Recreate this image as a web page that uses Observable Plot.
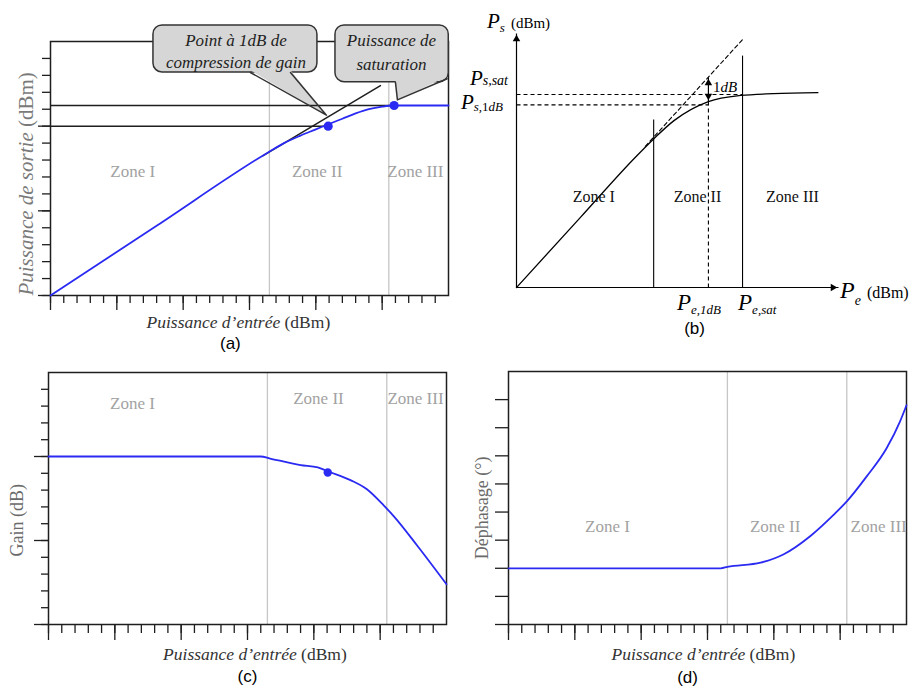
<!DOCTYPE html>
<html lang="fr">
<head>
<meta charset="utf-8">
<script src="https://cdn.jsdelivr.net/npm/d3@7"></script>
<script src="https://cdn.jsdelivr.net/npm/@observablehq/plot@0.6"></script>
<style>
html,body{margin:0;padding:0;background:#fff;}
#root{position:relative;width:909px;height:689px;overflow:hidden;background:#fff;}
.panel{position:absolute;}
.panel svg{display:block;}
</style>
</head>
<body>
<div id="root"></div>
<script>
// ================= DATA =================
const zoneNames = ["Zone I", "Zone II", "Zone III"];
const zoneBounds = [16.5, 25.5];                       // input power at zone boundaries (a, c, d)
const xMinorTicks = [0,1,2,3,4,5,6,7,8,9,10,11,12,13,14,15,16,17,18,19,20,21,22,23,24,25,26,27,28,29];
const xMajorTicks = [0,5,10,15,20,25];

// (a) output power vs input power
const aPin  = [0, 8, 16.4, 17.6, 18.8, 20.0, 20.9, 22.0, 23.0, 24.0, 25.0, 25.9, 30];
const aPout = [0, 4.12, 8.45, 9.0, 9.43, 9.81, 10.1, 10.44, 10.75, 11.0, 11.15, 11.22, 11.22];
const aTangentIn  = [16, 24.87];
const aTangentOut = [8.25, 12.4];
const aKeyIn  = [20.93, 25.9];      // 1 dB compression point, saturation point
const aKeyOut = [10.0, 11.22];
const aYMinorTicks = [0,1,2,3,4,5,6,7,8,9,10,11,12,13,14];
const aYMajorTicks = [0,5,10];
const aZoneLabelX = [6.2, 20.1, 27.5];
const aZoneLabelY = [6.97, 6.97, 6.97];
const aCalloutLines = [["Point à 1dB de", "compression de gain"], ["Puissance de", "saturation"]];

// (b) schematic Ps = f(Pe)
const bPe = [0, 2, 3.7, 4.26, 4.89, 5.96, 6.96, 7.98, 9.36];
const bPs = [0, 2.78, 5.14, 5.85, 6.57, 7.32, 7.56, 7.63, 7.67];
const bTangentPe = [4.0, 7.02];
const bTangentPs = [5.56, 9.76];
const bZoneX   = [4.26, 7.02];
const bZoneTop = [6.61, 9.13];
const bPe1dB = 5.96, bPesat = 7.02, bPs1dB = 7.19, bPssat = 7.6;
const bLinear1dB = 8.27;            // linear extrapolation at Pe,1dB
const bZoneLabelX = [2.4, 5.62, 8.57];
const bZoneLabelY = [3.35, 3.35, 3.35];

// (c) gain vs input power
const cPin  = [0, 8, 16, 16.7, 19, 20.3, 21.05, 22.8, 24, 25.3, 26, 27.8, 30];
const cGain = [10, 10, 10, 9.88, 9.49, 9.35, 9.12, 8.58, 8.05, 7.06, 6.47, 4.69, 2.4];
const cKeyIn = [21.05], cKeyGain = [9.05];
const cYMinorTicks = [0,1,2,3,4,5,6,7,8,9,10,11,12,13,14];
const cYMajorTicks = [0,5,10];
const cZoneLabelX = [6.33, 20.35, 27.66];
const cZoneLabelY = [12.8, 13.1, 13.15];

// (d) phase shift vs input power
const dPin   = [0, 8, 16, 16.5, 19, 20.75, 22.76, 24.5, 25.5, 27, 28.5, 29.5, 30];
const dPhase = [2, 2, 2, 2.05, 2.2, 2.5, 3.15, 3.9, 4.38, 5.27, 6.27, 7.21, 7.8];
const dYTicks = [0,1,2,3,4,5,6,7,8];
const dZoneLabelX = [7.46, 20.1, 27.9];
const dZoneLabelY = [3.29, 3.29, 3.29];

// ================= STYLE =================
const SERIF = "'Liberation Serif','Times New Roman',serif";
const SANS = "'Liberation Sans',Arial,sans-serif";
const BLUE = "#2a2af2";
const ZONE_TXT = "#a2a2a2";
const ZONE_LINE = "#c6c6c6";
const INK = "#1e1e1e";
const BOX = "#d6d6d6";

const root = document.getElementById("root");
function place(svg, left, top) {
  const div = document.createElement("div");
  div.className = "panel";
  div.style.left = left + "px";
  div.style.top = top + "px";
  div.appendChild(svg);
  root.appendChild(div);
}
// rich text (italic / upright / subscripts) positioned through the plot's scales
function rich(svg, spec) {
  const px = svg.scale("x").apply(spec.x) + (spec.dx || 0);
  const py = svg.scale("y").apply(spec.y) + (spec.dy || 0);
  const t = d3.select(svg).append("text")
    .attr("transform", `translate(${px},${py})` + (spec.rotate ? ` rotate(${spec.rotate})` : ""))
    .attr("text-anchor", spec.anchor || "start")
    .attr("font-family", SERIF)
    .attr("fill", spec.fill || "#000");
  let shift = 0;
  for (const p of spec.parts) {
    const s = p.sh || 0;
    t.append("tspan")
      .attr("dy", s - shift)
      .attr("dx", p.dx || 0)
      .attr("font-size", p.s)
      .attr("font-style", p.i ? "italic" : "normal")
      .text(p.t);
    shift = s;
  }
}
const common = {style: {background: "transparent", overflow: "visible", fontFamily: SERIF}};
const noText = () => "";
function ticksX(minorSize, majorSize) {
  return [
    Plot.axisX(xMinorTicks, {tickSize: minorSize, tickFormat: noText, label: null, stroke: INK, strokeWidth: 1.3}),
    Plot.axisX(xMajorTicks, {tickSize: majorSize, tickFormat: noText, label: null, stroke: INK, strokeWidth: 1.3})
  ];
}
function ticksY(values, size) {
  return Plot.axisY(values, {tickSize: size, tickFormat: noText, label: null, stroke: INK, strokeWidth: 1.3});
}
function caption(x, dy, label) {
  return Plot.text([label], {x: () => x, y: () => 0, dy, text: d => d, lineAnchor: "bottom",
    fontFamily: SANS, fontSize: 17, fill: "#000"});
}
function zoneText(xs, ys, size, fill) {
  return Plot.text(zoneNames, {x: xs, y: ys, text: d => d, lineAnchor: "bottom",
    fontFamily: SERIF, fontSize: size, fill});
}
const zoneRules = Plot.ruleX(zoneBounds, {stroke: ZONE_LINE, strokeWidth: 1.3});

// ================= (a) =================
{
  const curve = aPin.map((x, i) => ({x, y: aPout[i]}));
  const tangent = aTangentIn.map((x, i) => ({x, y: aTangentOut[i]}));
  const keys = aKeyIn.map((x, i) => ({x, y: aKeyOut[i]}));
  const callouts = [
    {x1: 7.76, x2: 20.12, y1: 13.17, y2: 15.95, tx: 13.98, ty: [14.71, 13.41],
     pointer: [[15.07, 13.17], [20.8, 10.65], [18.09, 13.17]]},
    {x1: 21.48, x2: 30.02, y1: 12.6, y2: 15.95, tx: 25.7, ty: [14.71, 13.29],
     pointer: [[26.0, 12.6], [26.15, 11.55], [29.9, 12.8]]}
  ];
  const pStroke = callouts.flatMap((c, i) => c.pointer.map(([x, y]) => ({i, x, y})));
  const pFill = callouts.flatMap((c, i) => c.pointer.map(([x, y], j) => ({i, x, y: j === 1 ? y : y + 0.13})));
  const textRows = callouts.flatMap((c, i) => aCalloutLines[i].map((t, j) => ({t, x: c.tx, y: c.ty[j]})));
  const svg = Plot.plot({
    ...common,
    width: 455, height: 355, marginLeft: 50, marginRight: 7, marginTop: 41, marginBottom: 60,
    x: {domain: [0, 30], axis: null, label: null},
    y: {domain: [0, 15], axis: null, label: null},
    marks: [
      zoneRules,
      Plot.frame({stroke: INK, strokeWidth: 1.5}),
      ...ticksX(8, 15),
      ticksY(aYMinorTicks, 8),
      ticksY(aYMajorTicks, 12),
      Plot.rect(callouts, {x1: "x1", x2: "x2", y1: "y1", y2: "y2", rx: 9, fill: BOX, stroke: "#333", strokeWidth: 1.5}),
      Plot.line(pFill, {x: "x", y: "y", z: "i", fill: BOX, stroke: "none"}),
      Plot.ruleY(keys, {y: "y", x1: () => 0, x2: "x", stroke: INK, strokeWidth: 1.5}),
      Plot.line(tangent, {x: "x", y: "y", stroke: INK, strokeWidth: 1.5}),
      Plot.line(curve, {x: "x", y: "y", stroke: BLUE, strokeWidth: 1.8, curve: "monotone-x"}),
      Plot.dot(keys, {x: "x", y: "y", r: 4.6, fill: BLUE}),
      Plot.line(pStroke, {x: "x", y: "y", z: "i", stroke: "#333", strokeWidth: 1.5}),
      Plot.text(textRows, {x: "x", y: "y", text: "t", lineAnchor: "bottom", fontStyle: "italic",
        fontFamily: SERIF, fontSize: 17, fill: "#222"}),
      zoneText(aZoneLabelX, aZoneLabelY, 17, ZONE_TXT),
      caption(13.56, 53, "(a)")
    ]
  });
  rich(svg, {x: 14.2, y: 0, dy: 33, anchor: "middle", fill: "#333",
    parts: [{t: "Puissance d’entrée ", i: 1, s: 17.5}, {t: "(dBm)", s: 17.5}]});
  rich(svg, {x: 0, y: 6.56, dx: -17, rotate: -90, anchor: "middle", fill: "#7a7a7a",
    parts: [{t: "Puissance de sortie ", i: 1, s: 21}, {t: "(dBm)", s: 21}]});
  place(svg, 0, 0);
}

// ================= (b) =================
{
  const curve = bPe.map((x, i) => ({x, y: bPs[i]}));
  const tangent = bTangentPe.map((x, i) => ({x, y: bTangentPs[i]}));
  const axesLines = [{x1: 0, y1: 0, x2: 0, y2: 10}, {x1: 0, y1: 0, x2: 10, y2: 0}];
  const zoneLines = bZoneX.map((x, i) => ({x1: x, y1: 0, x2: x, y2: bZoneTop[i]}));
  const dashed = [
    {x1: 0, y1: bPssat, x2: bPesat, y2: bPssat},
    {x1: 0, y1: bPs1dB, x2: bPe1dB, y2: bPs1dB},
    {x1: bPe1dB, y1: 0, x2: bPe1dB, y2: bPs[5]}
  ];
  const gap = [{x1: bPe1dB, y1: bPs[5], x2: bPe1dB, y2: bLinear1dB}];
  const link = {x1: "x1", y1: "y1", x2: "x2", y2: "y2"};
  const svg = Plot.plot({
    ...common,
    width: 459, height: 345, marginLeft: 66, marginRight: 71, marginTop: 33, marginBottom: 58,
    x: {domain: [0, 10], axis: null, label: null},
    y: {domain: [0, 10], axis: null, label: null},
    marks: [
      Plot.link(axesLines, {...link, stroke: "#000", strokeWidth: 1.2}),
      Plot.dot([{x: 0, y: 10}], {x: "x", y: "y", symbol: "triangle2", r: 3.6, fill: "#000", dy: 5.6}),
      Plot.dot([{x: 10, y: 0}], {x: "x", y: "y", symbol: "triangle2", r: 3.6, fill: "#000", rotate: 90, dx: -5.6}),
      Plot.link(zoneLines, {...link, stroke: "#000", strokeWidth: 1.1}),
      Plot.link(dashed, {...link, stroke: "#000", strokeWidth: 1.1, strokeDasharray: "4,3"}),
      Plot.line(tangent, {x: "x", y: "y", stroke: "#000", strokeWidth: 1.1, strokeDasharray: "4,3"}),
      Plot.line(curve, {x: "x", y: "y", stroke: "#000", strokeWidth: 1.3, curve: "monotone-x"}),
      Plot.link(gap, {...link, stroke: "#000", strokeWidth: 1.2}),
      Plot.dot([{x: bPe1dB, y: bLinear1dB}], {x: "x", y: "y", symbol: "triangle2", r: 3.6, fill: "#000", dy: 5.6}),
      Plot.dot([{x: bPe1dB, y: bPs[5]}], {x: "x", y: "y", symbol: "triangle2", r: 3.6, fill: "#000", rotate: 180, dy: -5.6}),
      zoneText(bZoneLabelX, bZoneLabelY, 16, "#111"),
      caption(5.53, 46, "(b)")
    ]
  });
  rich(svg, {x: 0, y: 10, dx: -29, dy: -5, parts: [{t: "P", i: 1, s: 21}, {t: "s", i: 1, s: 13, sh: 4}, {t: "(dBm)", s: 15, sh: 0, dx: 6}]});
  rich(svg, {x: 0, y: bPssat, dx: -8, dy: -9, anchor: "end", parts: [{t: "P", i: 1, s: 21}, {t: "s,sat", i: 1, s: 14, sh: 0}]});
  rich(svg, {x: 0, y: bPs1dB, dx: -13, dy: 5, anchor: "end", parts: [{t: "P", i: 1, s: 21}, {t: "s,", i: 1, s: 13, sh: 1.5}, {t: "1", s: 13, sh: 1.5}, {t: "dB", i: 1, s: 13, sh: 1.5}]});
  rich(svg, {x: 10, y: 0, dx: 2, dy: 11, parts: [{t: "P", i: 1, s: 24}, {t: "e", i: 1, s: 14, sh: 7}, {t: "(dBm)", s: 16, sh: 0, dx: 6}]});
  rich(svg, {x: bPe1dB, y: 0, dx: -31, dy: 23, parts: [{t: "P", i: 1, s: 23}, {t: "e,1dB", i: 1, s: 13, sh: 4}]});
  rich(svg, {x: bPesat, y: 0, dx: -4, dy: 23, parts: [{t: "P", i: 1, s: 23}, {t: "e,sat", i: 1, s: 13, sh: 4}]});
  rich(svg, {x: bPe1dB, y: bPssat, dx: 5, dy: -2.3, parts: [{t: "1", s: 15}, {t: "dB", i: 1, s: 15}]});
  place(svg, 450, 0);
}

// ================= (c) =================
{
  const curve = cPin.map((x, i) => ({x, y: cGain[i]}));
  const keys = cKeyIn.map((x, i) => ({x, y: cKeyGain[i]}));
  const svg = Plot.plot({
    ...common,
    width: 455, height: 349, marginLeft: 48, marginRight: 9, marginTop: 32, marginBottom: 65,
    x: {domain: [0, 30], axis: null, label: null},
    y: {domain: [0, 15], axis: null, label: null},
    marks: [
      zoneRules,
      Plot.frame({stroke: INK, strokeWidth: 1.5}),
      ...ticksX(9, 16),
      ticksY(cYMinorTicks, 7),
      ticksY(cYMajorTicks, 14),
      Plot.line(curve, {x: "x", y: "y", stroke: BLUE, strokeWidth: 1.8, curve: "monotone-x"}),
      Plot.dot(keys, {x: "x", y: "y", r: 4.2, fill: BLUE}),
      zoneText(cZoneLabelX, cZoneLabelY, 17, ZONE_TXT),
      caption(15.0, 57, "(c)")
    ]
  });
  rich(svg, {x: 15.6, y: 0, dy: 36, anchor: "middle", fill: "#333",
    parts: [{t: "Puissance d’entrée ", i: 1, s: 17.5}, {t: "(dBm)", s: 17.5}]});
  rich(svg, {x: 0, y: 6.17, dx: -25, rotate: -90, anchor: "middle", fill: "#6a6a6a",
    parts: [{t: "Gain (dB)", s: 18}]});
  place(svg, 0, 340);
}

// ================= (d) =================
{
  const curve = dPin.map((x, i) => ({x, y: dPhase[i]}));
  const svg = Plot.plot({
    ...common,
    width: 449, height: 349, marginLeft: 48, marginRight: 3, marginTop: 31, marginBottom: 65,
    x: {domain: [0, 30], axis: null, label: null},
    y: {domain: [0, 9], axis: null, label: null},
    marks: [
      zoneRules,
      Plot.frame({stroke: INK, strokeWidth: 1.5}),
      ...ticksX(9, 16),
      ticksY(dYTicks, 13),
      Plot.line(curve, {x: "x", y: "y", stroke: BLUE, strokeWidth: 1.8, curve: "monotone-x"}),
      zoneText(dZoneLabelX, dZoneLabelY, 17, ZONE_TXT),
      caption(13.5, 58, "(d)")
    ]
  });
  rich(svg, {x: 14.73, y: 0, dy: 36, anchor: "middle", fill: "#333",
    parts: [{t: "Puissance d’entrée ", i: 1, s: 17.5}, {t: "(dBm)", s: 17.5}]});
  rich(svg, {x: 0, y: 4.13, dx: -20, rotate: -90, anchor: "middle", fill: "#6a6a6a",
    parts: [{t: "Déphasage (°)", s: 18}]});
  place(svg, 460, 340);
}
</script>
</body>
</html>
